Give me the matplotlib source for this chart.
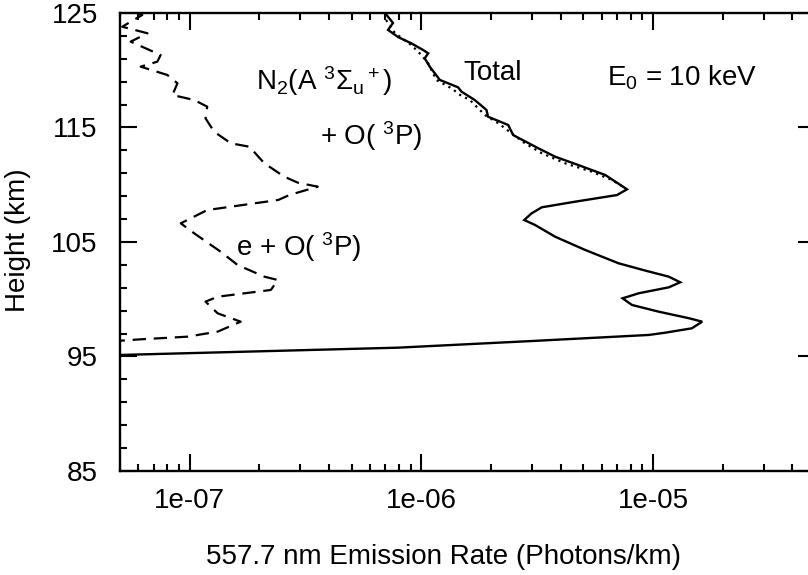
import numpy as np
import matplotlib
matplotlib.use("Agg")
import matplotlib.pyplot as plt
from matplotlib.ticker import LogLocator, FixedLocator, FuncFormatter, NullFormatter

plt.rcParams['font.family'] = ['Liberation Sans', 'DejaVu Sans']
plt.rcParams['mathtext.fontset'] = 'custom'
plt.rcParams['mathtext.rm'] = 'Liberation Sans'
plt.rcParams['mathtext.it'] = 'Liberation Sans:italic'
plt.rcParams['mathtext.default'] = 'regular'

# total 557.7 nm volume emission (photons/km) vs height (km)
total_rate = [6.97e-7, 7.54e-7, 7.18e-7, 7.93e-7, 9.05e-7, 1.017e-6, 1.07e-6, 1.034e-6,
              1.087e-6, 1.202e-6, 1.44e-6, 1.49e-6, 1.70e-6, 1.91e-6, 1.94e-6, 2.37e-6,
              2.49e-6, 3.20e-6, 3.78e-6, 4.76e-6, 6.22e-6, 7.72e-6, 6.99e-6, 4.61e-6,
              3.31e-6, 2.99e-6, 2.78e-6, 3.10e-6, 3.78e-6, 5.10e-6, 7.10e-6, 9.27e-6,
              1.17e-5, 1.31e-5, 1.17e-5, 8.67e-6, 7.39e-6, 8.11e-6, 1.06e-5, 1.43e-5,
              1.63e-5, 1.47e-5, 1.13e-5, 9.58e-6, 2.99e-6, 7.93e-7, 4.95e-8]
total_height = [125.0, 124.13, 123.52, 122.9, 122.35, 121.77, 121.48, 121.04,
                120.31, 119.15, 118.51, 118.13, 117.4, 116.53, 115.94, 115.22,
                114.34, 113.18, 112.45, 111.72, 110.85, 109.6, 109.1, 108.52,
                108.03, 107.5, 106.92, 106.48, 105.46, 104.3, 103.14, 102.5,
                101.97, 101.48, 101.04, 100.52, 100.08, 99.5, 98.91, 98.34,
                98.04, 97.46, 97.08, 96.88, 96.35, 95.77, 95.13]

# N2(A) + O(3P) contribution
n2a_rate = [7.04e-7, 7.69e-7, 9.05e-7, 1.0e-6, 1.07e-6, 1.16e-6, 1.35e-6, 1.47e-6,
            1.62e-6, 1.88e-6, 2.15e-6, 2.45e-6, 2.80e-6, 3.31e-6, 4.18e-6, 5.44e-6,
            6.65e-6, 7.6e-6]
n2a_height = [124.39, 123.25, 122.2, 121.33, 120.61, 119.15, 118.42, 117.84,
              117.4, 116.09, 115.37, 114.49, 113.62, 112.75, 111.87, 111.14,
              110.41, 109.69]

# e + O(3P) contribution
elec_rate = [5.94e-8, 6.24e-8, 5.11e-8, 6.57e-8, 5.56e-8, 7.49e-8, 7.25e-8, 6.14e-8,
             8.0e-8, 8.85e-8, 8.42e-8, 1.045e-7, 1.19e-7, 1.17e-7, 1.275e-7, 1.505e-7,
             1.81e-7, 2.1e-7, 2.56e-7, 2.93e-7, 3.57e-7, 2.69e-7, 2.41e-7, 1.19e-7,
             9.15e-8, 1.045e-7, 1.36e-7, 1.61e-7, 2.1e-7, 2.4e-7, 2.24e-7, 1.32e-7,
             1.17e-7, 1.32e-7, 1.66e-7, 1.32e-7, 9.77e-8, 6.14e-8, 5.03e-8]
elec_height = [125.0, 124.83, 123.8, 123.23, 122.5, 121.33, 120.75, 120.31,
               119.59, 118.86, 117.84, 117.4, 116.82, 115.8, 114.63, 113.62,
               113.32, 111.87, 110.7, 110.18, 109.83, 109.1, 108.67, 107.79,
               106.63, 105.76, 104.15, 102.99, 101.97, 101.68, 100.81, 100.22,
               99.79, 98.77, 98.04, 97.17, 96.73, 96.5, 96.38]

fig = plt.figure(figsize=(8.08, 5.75), dpi=100)
ax = fig.add_axes([0.1485, 0.1809, 0.8601, 0.7965])

ax.plot(total_rate, total_height, color='black', lw=1.7, solid_joinstyle='miter')
ax.plot(n2a_rate, n2a_height, color='black', lw=1.6, linestyle=(0, (1, 2)))
ax.plot(elec_rate, elec_height, color='black', lw=1.6, linestyle=(0, (6, 3.5)))

ax.set_xscale('log')
ax.set_xlim(5e-8, 5e-5)
ax.set_ylim(85, 125)

ax.xaxis.set_major_locator(LogLocator(base=10, numticks=10))
ax.xaxis.set_minor_locator(LogLocator(base=10, subs=np.arange(2, 10), numticks=20))
ax.xaxis.set_major_formatter(FuncFormatter(lambda v, p: f'{v:.0e}'))
ax.xaxis.set_minor_formatter(NullFormatter())
ax.yaxis.set_major_locator(FixedLocator([85, 95, 105, 115, 125]))
ax.yaxis.set_minor_locator(FixedLocator(np.arange(85, 126, 2)))

fs = 20
ax.tick_params(which='both', direction='in', top=True, right=True,
               width=1.5, labelsize=fs)
ax.tick_params(which='major', length=12)
ax.tick_params(which='minor', length=5)
ax.tick_params(axis='x', pad=12)
ax.tick_params(axis='y', pad=16)
for s in ax.spines.values():
    s.set_linewidth(1.7)

ax.set_xlabel('557.7 nm Emission Rate (Photons/km)', fontsize=fs, va='center')
ax.xaxis.set_label_coords(0.465, -0.188)
ax.set_ylabel('Height (km)', fontsize=fs, va='center')
ax.yaxis.set_label_coords(-0.147, 0.504)

ax.text(1.925e-7, 118.27, r'N$_2$(A ${}^3\Sigma_u{}^+$)', fontsize=fs)
ax.text(3.64e-7, 113.47, r'+ O( ${}^3$P)', fontsize=fs)
ax.text(1.515e-6, 119.15, 'Total', fontsize=fs)
ax.text(6.3e-6, 118.71, r'E$_0$ = 10 keV', fontsize=fs)
ax.text(1.58e-7, 103.78, r'e + O( ${}^3$P)', fontsize=fs)

fig.savefig('out.png', dpi=100)
